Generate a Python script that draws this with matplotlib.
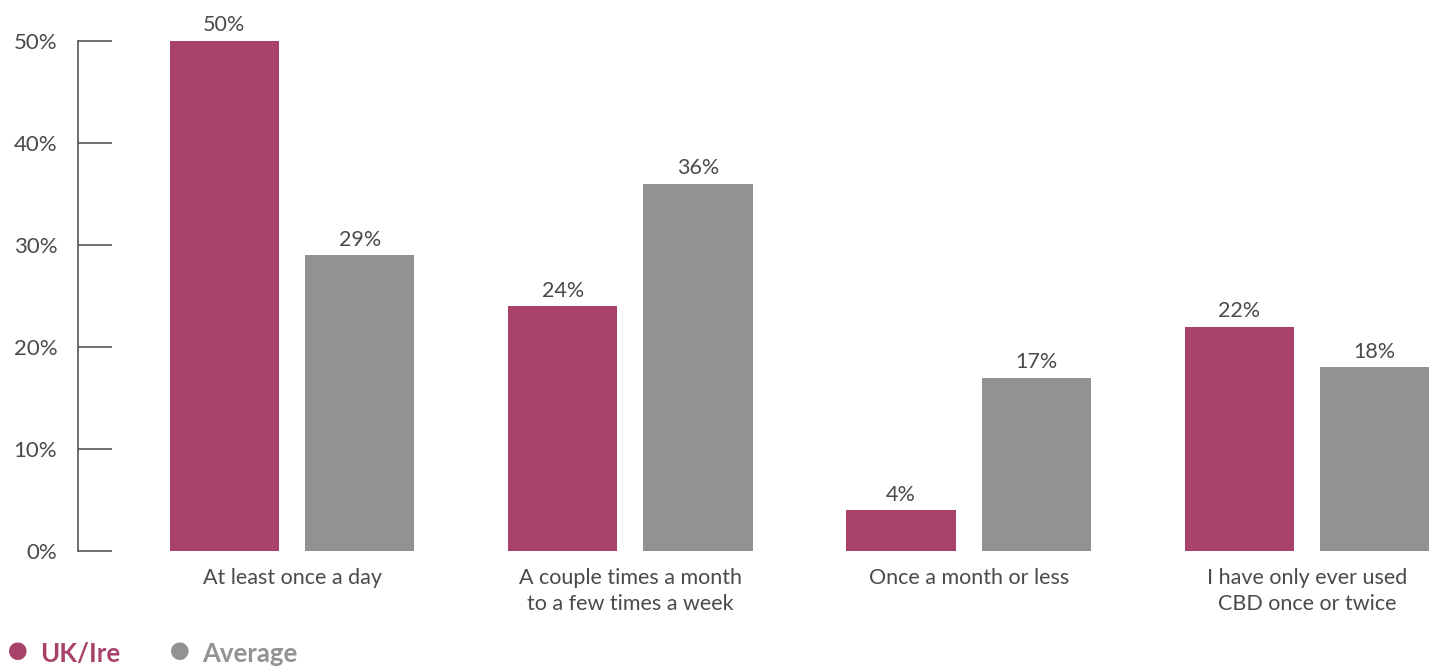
import matplotlib.pyplot as plt
import numpy as np

# data
categories = ["At least once a day",
              "A couple times a month\nto a few times a week",
              "Once a month or less",
              "I have only ever used\nCBD once or twice"]
uk_ire = [50, 24, 4, 22]
average = [29, 36, 17, 18]
yticks = [0, 10, 20, 30, 40, 50]

PINK = "#A8426A"
GREY = "#939192"
TEXT = "#4a4a4a"

plt.rcParams["font.family"] = ["Lato", "DejaVu Sans"]

fig = plt.figure(figsize=(14.33, 6.69), dpi=100)
ax = fig.add_axes([78 / 1433, (669 - 551) / 669, (1431 - 78) / 1433, (551 - 41) / 669])

x = np.arange(len(categories))
w = 0.3225
off = 0.2

b1 = ax.bar(x - off, uk_ire, w, color=PINK)
b2 = ax.bar(x + off, average, w, color=GREY)

for bars, vals in ((b1, uk_ire), (b2, average)):
    for b, v in zip(bars, vals):
        ax.annotate(f"{v}%", (b.get_x() + b.get_width() / 2, v),
                    xytext=(0, 4), textcoords="offset points",
                    ha="center", va="bottom", fontsize=15.5, color=TEXT,
                    annotation_clip=False)

ax.set_xlim(-0.6326, 3.3666)
ax.set_ylim(0, 50)
ax.set_yticks(yticks)
ax.set_yticklabels([f"{t}%" for t in yticks], fontsize=16, color=TEXT)
ax.tick_params(axis="y", direction="in", length=24.5, width=1.2,
               color="#555555", pad=15)
ax.set_xticks([])
for s in ["top", "right", "bottom"]:
    ax.spines[s].set_visible(False)
ax.spines["left"].set_color("#555555")
ax.spines["left"].set_linewidth(1.2)

for i, c in enumerate(categories):
    ax.text(i, -1.7, c, ha="center", va="top", fontsize=15.5, color=TEXT,
            linespacing=1.35, transform=ax.transData)

# legend
fig.text(18 / 1433, 1 - 652 / 669, "\u25CF", color=PINK, fontsize=26,
         ha="center", va="center")
fig.text(40 / 1433, 1 - 654 / 669, "UK/Ire", color=PINK, fontsize=18.5,
         ha="left", va="center", fontweight="bold")
fig.text(180 / 1433, 1 - 652 / 669, "\u25CF", color=GREY, fontsize=26,
         ha="center", va="center")
fig.text(202 / 1433, 1 - 654 / 669, "Average", color=GREY, fontsize=18.5,
         ha="left", va="center", fontweight="bold")

fig.savefig("out.png", dpi=100, facecolor="white")
